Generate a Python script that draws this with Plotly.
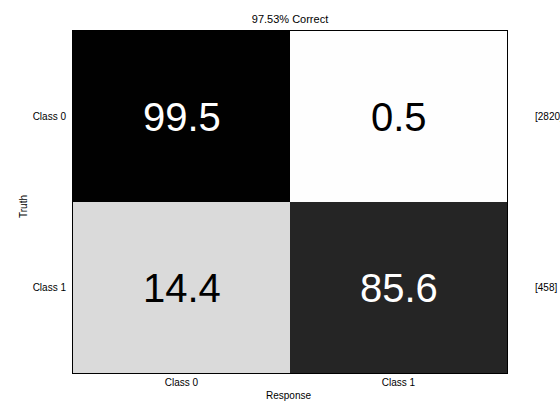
import plotly.graph_objects as go

classes = ["Class 0", "Class 1"]
percent = [[99.5, 0.5], [14.4, 85.6]]
row_counts = [2820, 458]
title_text = "97.53% Correct"
x_title = "Response"
y_title = "Truth"

W, H = 560, 419
FONT = "Liberation Sans, Arial, sans-serif"

fig = go.Figure()
fig.add_trace(go.Heatmap(
    z=percent, x=classes, y=classes,
    colorscale=[[0, "white"], [1, "black"]], zmin=0, zmax=100,
    showscale=False, hoverinfo="skip",
))

annotations = []
for i, row in enumerate(percent):
    for j, v in enumerate(row):
        annotations.append(dict(
            x=classes[j], y=classes[i], xref="x", yref="y",
            text=f"{v:.1f}", showarrow=False,
            font=dict(family=FONT, size=40, color="white" if v > 50 else "black"),
        ))
    annotations.append(dict(
        x=533 / W, y=classes[i], xref="paper", yref="y",
        xanchor="left", text=f"[{row_counts[i]}]", showarrow=False,
        font=dict(family=FONT, size=10, color="black"),
    ))

annotations.append(dict(
    x=288 / W, y=1 - 396 / H, xref="paper", yref="paper", xanchor="center", yanchor="middle",
    text=x_title, showarrow=False, font=dict(family=FONT, size=10, color="black"),
))
annotations.append(dict(
    x=23 / W, y=1 - 207 / H, xref="paper", yref="paper", xanchor="center", yanchor="middle",
    text=y_title, showarrow=False, textangle=-90, font=dict(family=FONT, size=10, color="black"),
))

ml, mr, mt, mb = 73, W - 507, 31, H - 373
pw, ph = W - ml - mr, H - mt - mb
for a in annotations:
    if a["xref"] == "paper":
        a["x"] = (a["x"] * W - ml) / pw
    if a["yref"] == "paper":
        a["y"] = ((a["y"] * H) - mb) / ph

fig.update_layout(
    width=W, height=H,
    margin=dict(l=ml, r=mr, t=mt, b=mb),
    paper_bgcolor="white", plot_bgcolor="white",
    font=dict(family=FONT, size=10, color="black"),
    title=dict(text=title_text, x=290 / W, xanchor="center", y=1 - 19 / H, yanchor="middle",
               yref="container", xref="container", font=dict(family=FONT, size=11, color="black")),
    annotations=annotations,
    xaxis=dict(showline=True, linecolor="black", linewidth=1, mirror=True, ticks="",
               showgrid=False, zeroline=False, tickfont=dict(size=10)),
    yaxis=dict(showline=True, linecolor="black", linewidth=1, mirror=True, ticks="",
               showgrid=False, zeroline=False, autorange="reversed", tickfont=dict(size=10),
               ticklabelstandoff=4),
)

fig.write_html("out.html")
